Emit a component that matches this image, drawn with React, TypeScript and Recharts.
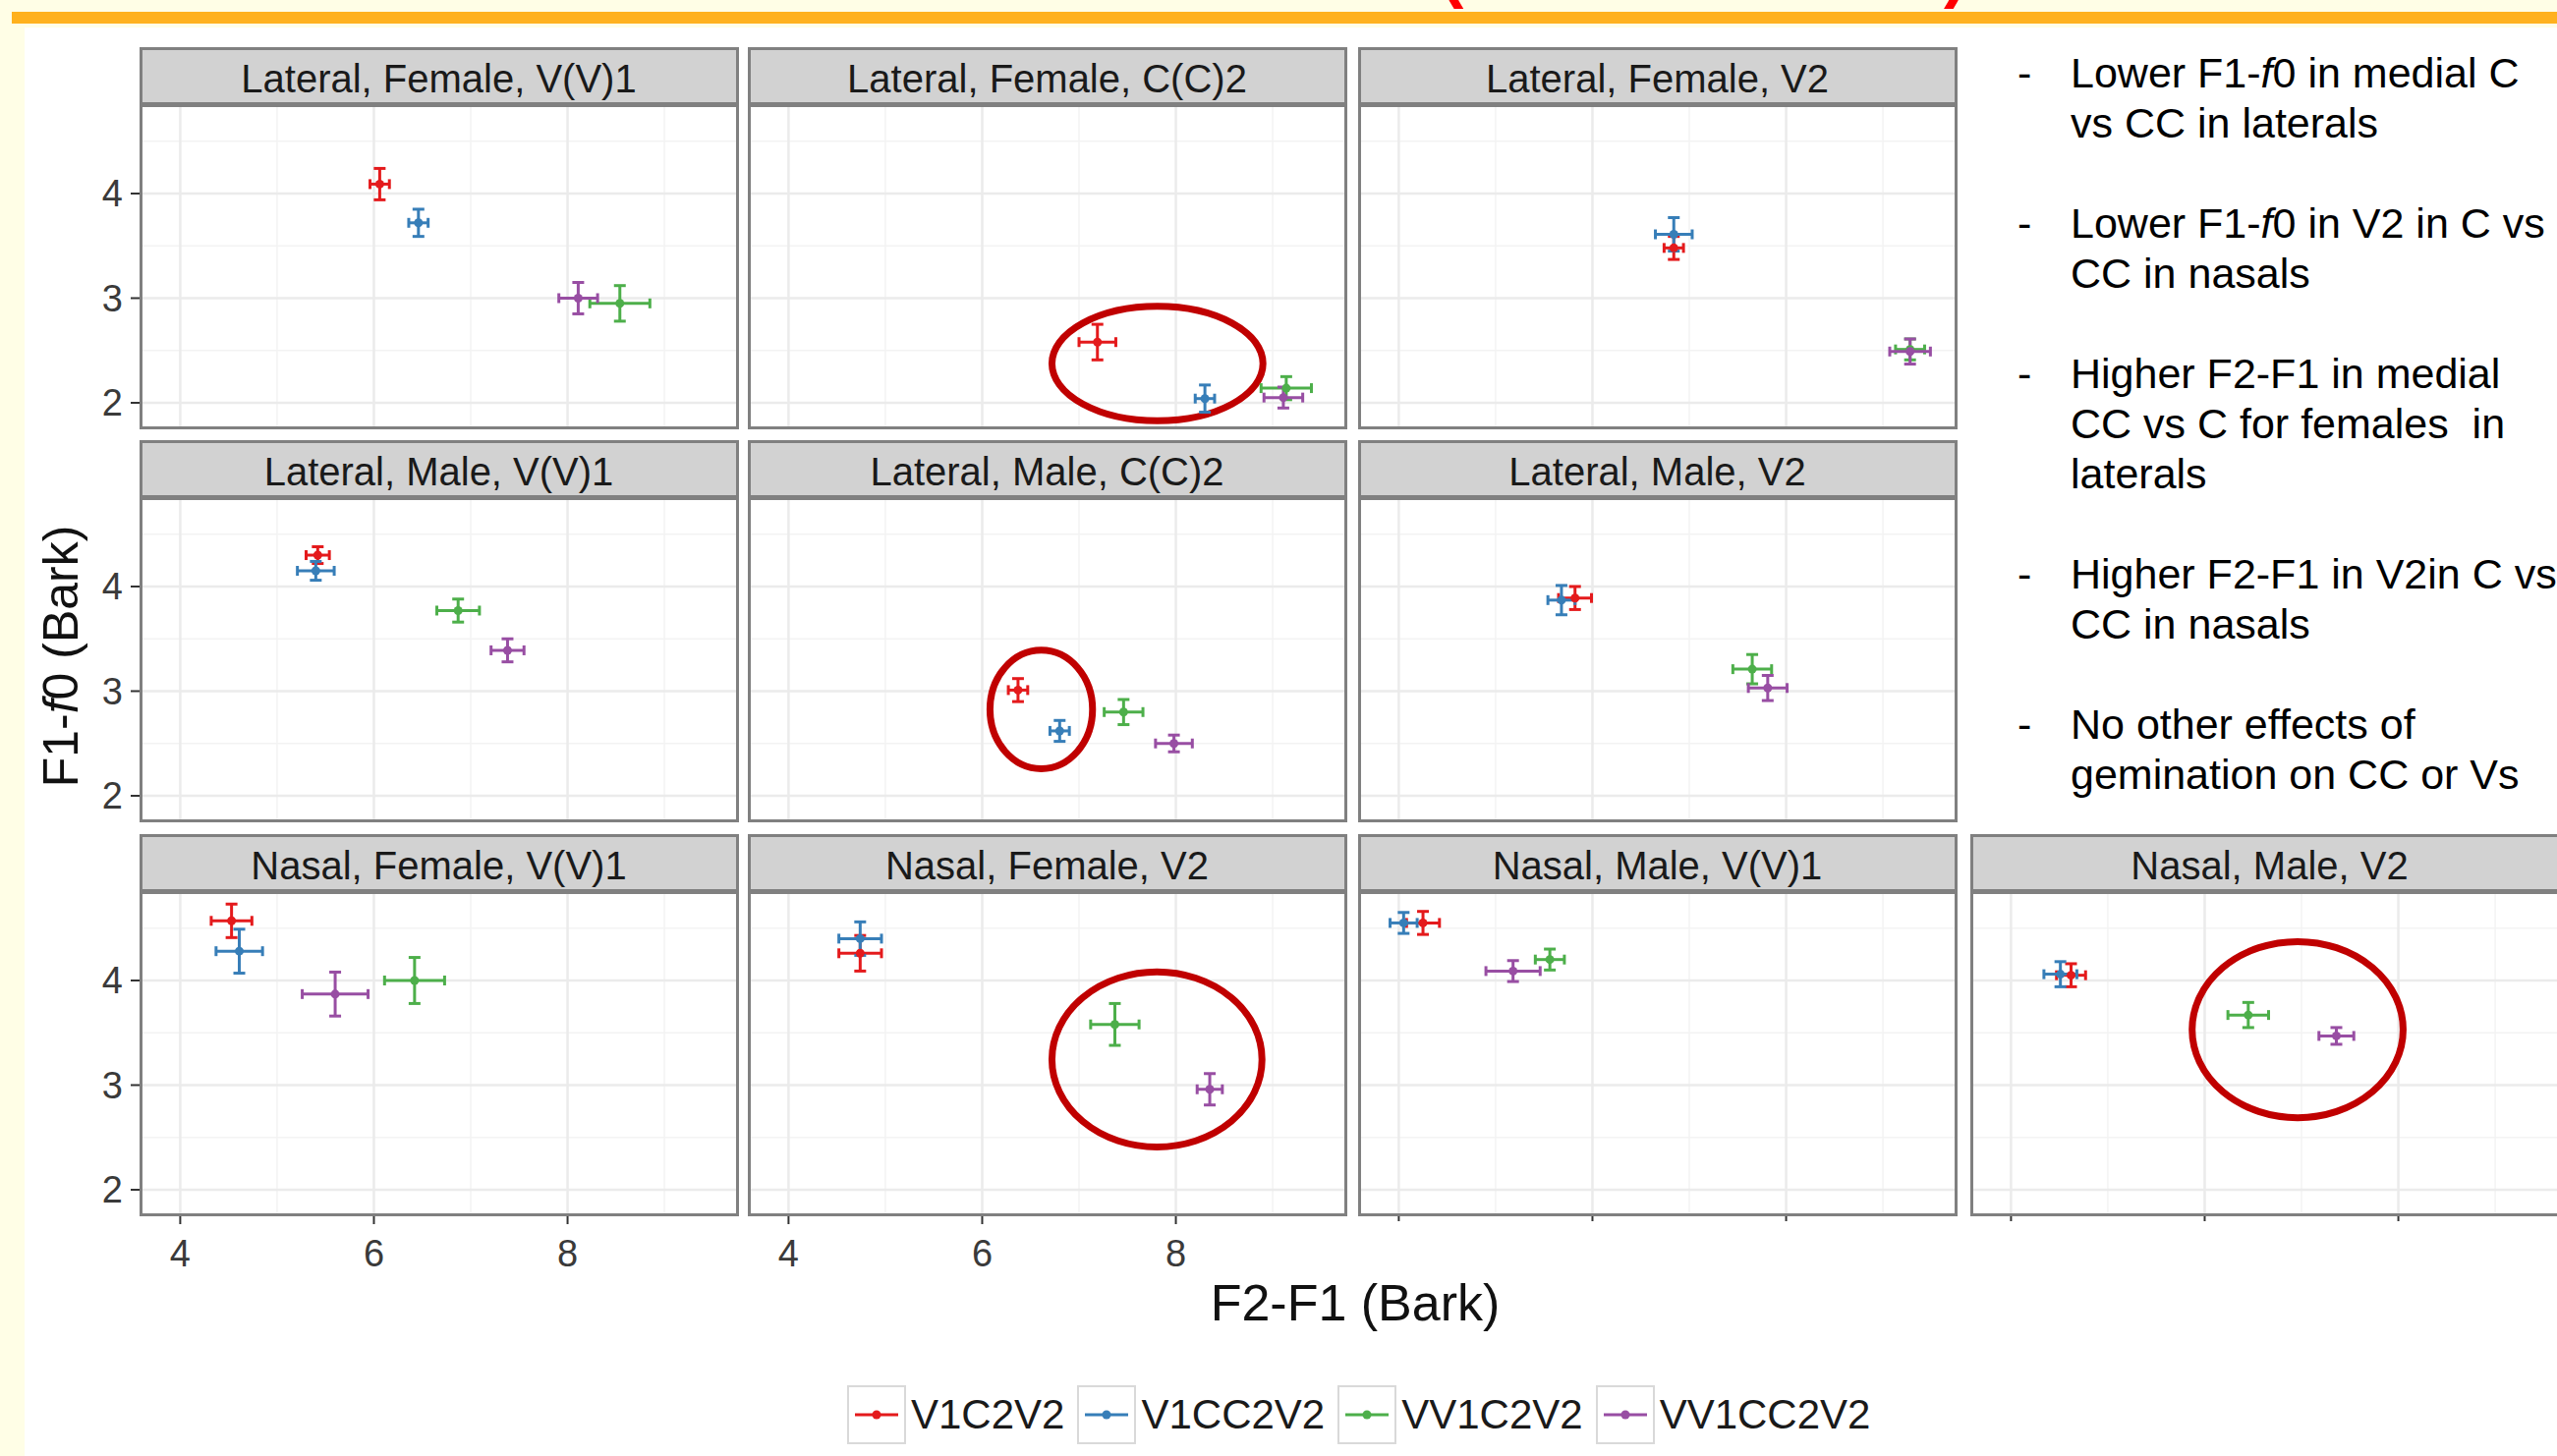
import React from "react";
import { ScatterChart, Scatter, XAxis, YAxis, ErrorBar, CartesianGrid, ReferenceArea } from "recharts";

const panelTitles = [
  "Lateral, Female, V(V)1",
  "Lateral, Female, C(C)2",
  "Lateral, Female, V2",
  "Lateral, Male, V(V)1",
  "Lateral, Male, C(C)2",
  "Lateral, Male, V2",
  "Nasal, Female, V(V)1",
  "Nasal, Female, V2",
  "Nasal, Male, V(V)1",
  "Nasal, Male, V2",
];

const groupNames = ["V1C2V2", "V1CC2V2", "VV1C2V2", "VV1CC2V2"];
const groupColors = ["#E41A1C", "#377EB8", "#4DAF4A", "#984EA3"];

// one value per panel, in panelTitles order
const v1c2v2X = [6.06, 7.19, 6.84, 5.42, 6.37, 5.82, 4.53, 4.74, 4.25, 4.62];
const v1c2v2Y = [4.09, 2.58, 3.48, 4.3, 3.01, 3.89, 4.57, 4.26, 4.55, 4.05];
const v1c2v2XErr = [0.1, 0.19, 0.1, 0.12, 0.1, 0.17, 0.21, 0.22, 0.17, 0.15];
const v1c2v2YErr = [0.15, 0.17, 0.11, 0.08, 0.11, 0.11, 0.16, 0.17, 0.11, 0.11];

const v1cc2v2X = [6.46, 8.3, 6.84, 5.4, 6.8, 5.68, 4.61, 4.74, 4.05, 4.51];
const v1cc2v2Y = [3.72, 2.04, 3.61, 4.15, 2.62, 3.87, 4.28, 4.4, 4.55, 4.06];
const v1cc2v2XErr = [0.1, 0.1, 0.19, 0.19, 0.1, 0.14, 0.24, 0.22, 0.14, 0.17];
const v1cc2v2YErr = [0.13, 0.13, 0.16, 0.09, 0.1, 0.14, 0.21, 0.16, 0.1, 0.12];

const vv1c2v2X = [8.54, 9.14, 9.28, 6.87, 7.46, 7.65, 6.42, 7.37, 5.56, 6.45];
const vv1c2v2Y = [2.95, 2.14, 2.51, 3.77, 2.8, 3.21, 4.0, 3.58, 4.2, 3.67];
const vv1c2v2XErr = [0.31, 0.26, 0.15, 0.22, 0.2, 0.2, 0.31, 0.25, 0.15, 0.21];
const vv1c2v2YErr = [0.17, 0.11, 0.1, 0.11, 0.12, 0.14, 0.22, 0.2, 0.1, 0.12];

const vv1cc2v2X = [8.11, 9.11, 9.28, 7.38, 7.98, 7.81, 5.6, 8.35, 5.18, 7.36];
const vv1cc2v2Y = [3.0, 2.05, 2.49, 3.39, 2.5, 3.03, 3.87, 2.96, 4.09, 3.47];
const vv1cc2v2XErr = [0.2, 0.2, 0.21, 0.17, 0.19, 0.2, 0.34, 0.13, 0.28, 0.18];
const vv1cc2v2YErr = [0.15, 0.1, 0.12, 0.11, 0.08, 0.12, 0.21, 0.15, 0.1, 0.08];

const seriesX = [v1c2v2X, v1cc2v2X, vv1c2v2X, vv1cc2v2X];
const seriesY = [v1c2v2Y, v1cc2v2Y, vv1c2v2Y, vv1cc2v2Y];
const seriesXErr = [v1c2v2XErr, v1cc2v2XErr, vv1c2v2XErr, vv1cc2v2XErr];
const seriesYErr = [v1c2v2YErr, v1cc2v2YErr, vv1c2v2YErr, vv1cc2v2YErr];

const xMajor = [4, 6, 8];
const xMinor = [5, 7, 9];
const yMajor = [2, 3, 4];
const yMinor = [2.5, 3.5, 4.5];
const xDomain = [3.59, 9.75];
const yDomain = [1.765, 4.845];

// red circles drawn on the slide, in data units
const highlightPanels = [1, 4, 7, 9];
const highlightX1 = [6.69, 6.05, 6.69, 5.84];
const highlightX2 = [8.93, 7.17, 8.92, 8.08];
const highlightY1 = [1.8, 2.23, 2.38, 2.66];
const highlightY2 = [2.95, 3.42, 4.11, 4.4];

const bullets = [
  ["Lower F1-|f|0 in medial C", "vs CC in laterals"],
  ["Lower F1-|f|0 in V2 in C vs", "CC in nasals"],
  ["Higher F2-F1 in medial", "CC vs C for females  in", "laterals"],
  ["Higher F2-F1 in V2in C vs", "CC in nasals"],
  ["No other effects of", "gemination on CC or Vs"],
];

const FONT = '"Liberation Sans", Arial, sans-serif';
const colLeft = [143, 762, 1383, 2006];
const rowTop = [48, 448, 849];
const slots = [[0, 0], [1, 0], [2, 0], [0, 1], [1, 1], [2, 1], [0, 2], [1, 2], [2, 2], [3, 2]];
const STRIP_H = 59;
const PLOT_W = 607;
const PLOT_H = 328;
const Y_AXIS_W = 80;
const X_AXIS_H = 80;
const BORDER = "#808080";

const Dot = (color: string) => (p: any) => <circle cx={p.cx} cy={p.cy} r={4.5} fill={color} />;
const NoLabel = () => <g />;

function Ellipse(p: any) {
  return (
    <ellipse
      cx={p.x + p.width / 2}
      cy={p.y + p.height / 2}
      rx={p.width / 2 - 3}
      ry={p.height / 2 - 3}
      fill="none"
      stroke="#C00000"
      strokeWidth={7}
    />
  );
}

function Panel({ idx }: { idx: number }) {
  const [col, row] = slots[idx];
  const left = colLeft[col];
  const top = rowTop[row] + STRIP_H;
  const showY = col === 0;
  const showXTicks = row === 2;
  const showXLabels = row === 2 && col < 2;
  const yW = showY ? Y_AXIS_W : 0;
  const xH = showXTicks ? X_AXIS_H : 0;
  const hi = highlightPanels.indexOf(idx);

  return (
    <>
      <div style={{ position: "absolute", left, top, width: PLOT_W, height: PLOT_H, background: "#fff" }} />
      <div style={{ position: "absolute", left: left - yW, top }}>
        <ScatterChart width={PLOT_W + yW} height={PLOT_H + xH} margin={{ top: 0, right: 0, bottom: 0, left: 0 }}>
          <CartesianGrid horizontalValues={yMinor} verticalValues={xMinor} stroke="#F3F3F3" strokeWidth={1.5} />
          <CartesianGrid horizontalValues={yMajor} verticalValues={xMajor} stroke="#EBEBEB" strokeWidth={2.5} />
          <XAxis
            type="number"
            dataKey="x"
            domain={xDomain}
            ticks={xMajor}
            allowDataOverflow
            hide={!showXTicks}
            height={xH}
            axisLine={false}
            tickSize={showXLabels ? 10 : 7}
            tickMargin={16}
            tickLine={{ stroke: "#333", strokeWidth: 2 }}
            tick={showXLabels ? { fontSize: 38, fill: "#3a3a3a", fontFamily: FONT } : NoLabel}
          />
          <YAxis
            type="number"
            dataKey="y"
            domain={yDomain}
            ticks={yMajor}
            allowDataOverflow
            hide={!showY}
            width={yW}
            axisLine={false}
            tickSize={10}
            tickMargin={8}
            tickLine={{ stroke: "#333", strokeWidth: 2 }}
            tick={{ fontSize: 38, fill: "#3a3a3a", fontFamily: FONT }}
          />
          {groupNames.map((g, gi) => (
            <Scatter
              key={g}
              name={g}
              data={[{ x: seriesX[gi][idx], y: seriesY[gi][idx], ex: seriesXErr[gi][idx], ey: seriesYErr[gi][idx] }]}
              fill={groupColors[gi]}
              shape={Dot(groupColors[gi])}
              isAnimationActive={false}
            >
              <ErrorBar dataKey="ex" direction="x" width={5} stroke={groupColors[gi]} strokeWidth={3} isAnimationActive={false} />
              <ErrorBar dataKey="ey" direction="y" width={6} stroke={groupColors[gi]} strokeWidth={3} isAnimationActive={false} />
            </Scatter>
          ))}
          {hi >= 0 && (
            <ReferenceArea
              x1={highlightX1[hi]}
              x2={highlightX2[hi]}
              y1={highlightY1[hi]}
              y2={highlightY2[hi]}
              ifOverflow="visible"
              shape={Ellipse}
            />
          )}
        </ScatterChart>
      </div>
      <div
        style={{
          position: "absolute",
          left: left - 1.5,
          top: top - 1.5,
          width: PLOT_W + 3,
          height: PLOT_H + 3,
          boxSizing: "border-box",
          border: `3px solid ${BORDER}`,
          pointerEvents: "none",
        }}
      />
      <div
        style={{
          position: "absolute",
          left: left - 1.5,
          top: rowTop[row],
          width: PLOT_W + 3,
          height: STRIP_H,
          boxSizing: "border-box",
          border: `3px solid ${BORDER}`,
          background: "#D2D2D2",
          display: "flex",
          alignItems: "center",
          justifyContent: "center",
          paddingTop: 6,
          fontFamily: FONT,
          fontSize: 40,
          color: "#1a1a1a",
          whiteSpace: "nowrap",
        }}
      >
        {panelTitles[idx]}
      </div>
    </>
  );
}

function RichLine({ text }: { text: string }) {
  const parts = text.split("|");
  return (
    <>
      {parts.map((s, i) => (i % 2 === 1 ? <i key={i}>{s}</i> : <span key={i}>{s}</span>))}
    </>
  );
}

export default function App() {
  return (
    <div
      style={{
        position: "fixed",
        left: 0,
        top: 0,
        width: 2602,
        height: 1482,
        overflow: "hidden",
        background: "#FFFEE6",
        fontFamily: FONT,
      }}
    >
      <div style={{ position: "absolute", left: 25, top: 28, right: 0, bottom: 0, background: "#fff" }} />
      <div style={{ position: "absolute", left: 12, top: 12, right: 0, height: 12, background: "#FFB11E" }} />
      <svg style={{ position: "absolute", left: 0, top: 0 }} width={2602} height={12}>
        <text x={1466} y={-6} fontSize={70} fontWeight="bold" fill="#FF0000" fontFamily={FONT}>(</text>
        <text x={1978} y={-6} fontSize={70} fontWeight="bold" fill="#FF0000" fontFamily={FONT}>)</text>
      </svg>

      {panelTitles.map((_, i) => (
        <Panel key={i} idx={i} />
      ))}

      <div
        style={{
          position: "absolute",
          left: 62,
          top: 668,
          transform: "translate(-50%, -50%) rotate(-90deg)",
          fontSize: 50,
          color: "#111",
          whiteSpace: "nowrap",
        }}
      >
        F1-<i>f</i>0 (Bark)
      </div>
      <div
        style={{
          position: "absolute",
          left: 1379,
          top: 1326,
          transform: "translate(-50%, -50%)",
          fontSize: 52,
          color: "#111",
          whiteSpace: "nowrap",
        }}
      >
        F2-F1 (Bark)
      </div>

      <div style={{ position: "absolute", left: 862, top: 1410, display: "flex", alignItems: "center", height: 60 }}>
        {groupNames.map((g, gi) => (
          <div key={g} style={{ display: "flex", alignItems: "center", marginRight: 13 }}>
            <svg width={60} height={60}>
              <rect x={1} y={1} width={58} height={58} fill="#fff" stroke="#D9D9D9" strokeWidth={2} />
              <line x1={8} y1={30} x2={52} y2={30} stroke={groupColors[gi]} strokeWidth={3} />
              <circle cx={30} cy={30} r={4.5} fill={groupColors[gi]} />
            </svg>
            <span style={{ marginLeft: 5, fontSize: 42, color: "#1a1a1a" }}>{g}</span>
          </div>
        ))}
      </div>

      <div style={{ position: "absolute", left: 2053, top: 49, fontSize: 43, lineHeight: "51px", color: "#000" }}>
        {bullets.map((lines, bi) => (
          <div key={bi} style={{ display: "flex", marginBottom: 51 }}>
            <div style={{ width: 54 }}>-</div>
            <div style={{ whiteSpace: "pre" }}>
              {lines.map((l, li) => (
                <div key={li}>
                  <RichLine text={l} />
                </div>
              ))}
            </div>
          </div>
        ))}
      </div>
    </div>
  );
}
